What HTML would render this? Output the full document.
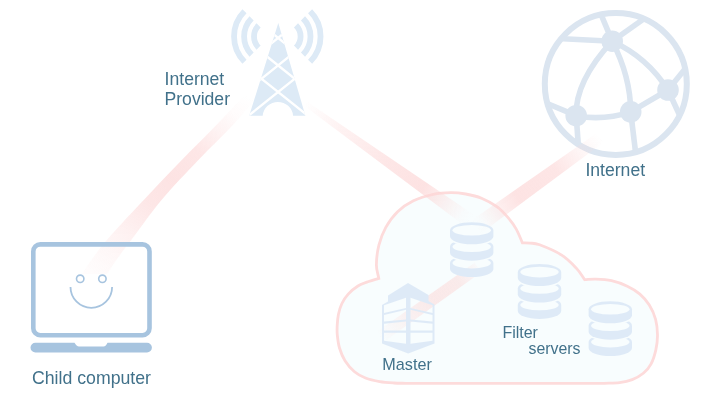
<!DOCTYPE html>
<html><head><meta charset="utf-8">
<style>
html,body{margin:0;padding:0;background:#fff;width:702px;height:406px;overflow:hidden}
svg{display:block}
text{font-family:"Liberation Sans",sans-serif}
</style></head><body>
<svg width="702" height="406" viewBox="0 0 702 406">
<defs>
<filter id="blur" x="-20%" y="-20%" width="140%" height="140%"><feGaussianBlur stdDeviation="0.7"/></filter>
<linearGradient id="b1g" gradientUnits="userSpaceOnUse" x1="250.0" y1="96.0" x2="95.0" y2="274.0"><stop offset="0" stop-color="#fcd6d6" stop-opacity="0.0"/><stop offset="0.1" stop-color="#fcd6d6" stop-opacity="0.08"/><stop offset="0.2" stop-color="#fcd6d6" stop-opacity="0.3"/><stop offset="0.32" stop-color="#fcd6d6" stop-opacity="0.6"/><stop offset="0.48" stop-color="#fcd6d6" stop-opacity="0.68"/><stop offset="0.62" stop-color="#fcd6d6" stop-opacity="0.6"/><stop offset="0.77" stop-color="#fcd6d6" stop-opacity="0.35"/><stop offset="0.89" stop-color="#fcd6d6" stop-opacity="0.18"/><stop offset="1" stop-color="#fcd6d6" stop-opacity="0.08"/></linearGradient>
<linearGradient id="b2g" gradientUnits="userSpaceOnUse" x1="305.0" y1="103.3" x2="470.0" y2="220.8"><stop offset="0" stop-color="#fcd6d6" stop-opacity="0.0"/><stop offset="0.2" stop-color="#fcd6d6" stop-opacity="0.3"/><stop offset="0.5" stop-color="#fcd6d6" stop-opacity="0.6"/><stop offset="0.72" stop-color="#fcd6d6" stop-opacity="0.7"/><stop offset="0.85" stop-color="#fcd6d6" stop-opacity="0.32"/><stop offset="0.95" stop-color="#fcd6d6" stop-opacity="0.05"/><stop offset="1" stop-color="#fcd6d6" stop-opacity="0"/></linearGradient>
<linearGradient id="b3g" gradientUnits="userSpaceOnUse" x1="614.0" y1="127.7" x2="476.0" y2="227.0"><stop offset="0" stop-color="#fcd6d6" stop-opacity="0.0"/><stop offset="0.1" stop-color="#fcd6d6" stop-opacity="0.0"/><stop offset="0.25" stop-color="#fcd6d6" stop-opacity="0.25"/><stop offset="0.42" stop-color="#fcd6d6" stop-opacity="0.62"/><stop offset="0.7" stop-color="#fcd6d6" stop-opacity="0.68"/><stop offset="0.85" stop-color="#fcd6d6" stop-opacity="0.32"/><stop offset="0.95" stop-color="#fcd6d6" stop-opacity="0.05"/><stop offset="1" stop-color="#fcd6d6" stop-opacity="0"/></linearGradient>
<linearGradient id="b4g" gradientUnits="userSpaceOnUse" x1="478.0" y1="267.5" x2="380.0" y2="337.0"><stop offset="0" stop-color="#fcd6d6" stop-opacity="0.1"/><stop offset="0.2" stop-color="#fcd6d6" stop-opacity="0.48"/><stop offset="0.45" stop-color="#fcd6d6" stop-opacity="0.52"/><stop offset="0.7" stop-color="#fcd6d6" stop-opacity="0.33"/><stop offset="1" stop-color="#fcd6d6" stop-opacity="0.0"/></linearGradient>
<clipPath id="tclip"><path d="M278.3,23 L305.4,115.7 L249.2,115.7 Z"/></clipPath>
<mask id="dbm0" maskUnits="userSpaceOnUse" x="441.7" y="215.3" width="60" height="70">
<path d="M450.00,263.10 A21.7,8.0 0 0 1 493.40,263.10 L493.40,269.10 A21.7,8.0 0 0 1 450.00,269.10 Z" fill="#fff"/>
<ellipse cx="471.7" cy="263.10" rx="19.2" ry="5.3" fill="#000"/>
<path d="M450.00,246.70 A21.7,8.0 0 0 1 493.40,246.70 L493.40,252.70 A21.7,8.0 0 0 1 450.00,252.70 Z" fill="#000" stroke="#000" stroke-width="3.2"/>
<path d="M450.00,246.70 A21.7,8.0 0 0 1 493.40,246.70 L493.40,252.70 A21.7,8.0 0 0 1 450.00,252.70 Z" fill="#fff"/>
<ellipse cx="471.7" cy="246.70" rx="19.2" ry="5.3" fill="#000"/>
<path d="M450.00,230.30 A21.7,8.0 0 0 1 493.40,230.30 L493.40,236.30 A21.7,8.0 0 0 1 450.00,236.30 Z" fill="#000" stroke="#000" stroke-width="3.2"/>
<path d="M450.00,230.30 A21.7,8.0 0 0 1 493.40,230.30 L493.40,236.30 A21.7,8.0 0 0 1 450.00,236.30 Z" fill="#fff"/>
<ellipse cx="471.7" cy="230.30" rx="19.2" ry="5.3" fill="#000"/>
</mask>
<mask id="dbm1" maskUnits="userSpaceOnUse" x="509.5" y="257.1" width="60" height="70">
<path d="M517.80,304.90 A21.7,8.0 0 0 1 561.20,304.90 L561.20,310.90 A21.7,8.0 0 0 1 517.80,310.90 Z" fill="#fff"/>
<ellipse cx="539.5" cy="304.90" rx="19.2" ry="5.3" fill="#000"/>
<path d="M517.80,288.50 A21.7,8.0 0 0 1 561.20,288.50 L561.20,294.50 A21.7,8.0 0 0 1 517.80,294.50 Z" fill="#000" stroke="#000" stroke-width="3.2"/>
<path d="M517.80,288.50 A21.7,8.0 0 0 1 561.20,288.50 L561.20,294.50 A21.7,8.0 0 0 1 517.80,294.50 Z" fill="#fff"/>
<ellipse cx="539.5" cy="288.50" rx="19.2" ry="5.3" fill="#000"/>
<path d="M517.80,272.10 A21.7,8.0 0 0 1 561.20,272.10 L561.20,278.10 A21.7,8.0 0 0 1 517.80,278.10 Z" fill="#000" stroke="#000" stroke-width="3.2"/>
<path d="M517.80,272.10 A21.7,8.0 0 0 1 561.20,272.10 L561.20,278.10 A21.7,8.0 0 0 1 517.80,278.10 Z" fill="#fff"/>
<ellipse cx="539.5" cy="272.10" rx="19.2" ry="5.3" fill="#000"/>
</mask>
<mask id="dbm2" maskUnits="userSpaceOnUse" x="580.3" y="294.3" width="60" height="70">
<path d="M588.60,342.10 A21.7,8.0 0 0 1 632.00,342.10 L632.00,348.10 A21.7,8.0 0 0 1 588.60,348.10 Z" fill="#fff"/>
<ellipse cx="610.3" cy="342.10" rx="19.2" ry="5.3" fill="#000"/>
<path d="M588.60,325.70 A21.7,8.0 0 0 1 632.00,325.70 L632.00,331.70 A21.7,8.0 0 0 1 588.60,331.70 Z" fill="#000" stroke="#000" stroke-width="3.2"/>
<path d="M588.60,325.70 A21.7,8.0 0 0 1 632.00,325.70 L632.00,331.70 A21.7,8.0 0 0 1 588.60,331.70 Z" fill="#fff"/>
<ellipse cx="610.3" cy="325.70" rx="19.2" ry="5.3" fill="#000"/>
<path d="M588.60,309.30 A21.7,8.0 0 0 1 632.00,309.30 L632.00,315.30 A21.7,8.0 0 0 1 588.60,315.30 Z" fill="#000" stroke="#000" stroke-width="3.2"/>
<path d="M588.60,309.30 A21.7,8.0 0 0 1 632.00,309.30 L632.00,315.30 A21.7,8.0 0 0 1 588.60,315.30 Z" fill="#fff"/>
<ellipse cx="610.3" cy="309.30" rx="19.2" ry="5.3" fill="#000"/>
</mask>
</defs>

<!-- cloud -->
<path d="M378.80,278.40 C378.00,273.90 376.38,270.43 376.40,264.90 C376.42,259.37 377.33,251.45 378.90,245.20 C380.47,238.95 382.68,232.98 385.80,227.40 C388.92,221.82 393.00,216.13 397.60,211.70 C402.20,207.27 407.48,203.70 413.40,200.80 C419.32,197.90 426.87,195.67 433.10,194.30 C439.33,192.93 445.37,192.65 450.80,192.60 C456.23,192.55 460.58,193.07 465.70,194.00 C470.82,194.93 476.25,196.05 481.50,198.20 C486.75,200.35 492.73,203.62 497.20,206.90 C501.67,210.18 505.15,214.23 508.30,217.90 C511.45,221.57 513.75,224.75 516.10,228.90 C518.45,233.05 520.30,238.17 522.40,242.80 C524.93,242.90 527.13,242.77 530.00,243.10 C532.87,243.43 534.32,242.80 539.60,244.80 C544.88,246.80 555.55,251.17 561.70,255.10 C567.85,259.03 572.67,264.30 576.50,268.40 C580.33,272.50 581.97,275.93 584.70,279.70 C588.40,279.50 591.33,278.93 595.80,279.10 C600.27,279.27 606.25,279.52 611.50,280.70 C616.75,281.88 622.57,283.97 627.30,286.20 C632.03,288.43 636.23,290.95 639.90,294.10 C643.57,297.25 646.68,300.90 649.30,305.10 C651.92,309.30 654.23,314.32 655.60,319.30 C656.97,324.28 657.45,329.95 657.50,335.00 C657.55,340.05 656.97,344.80 655.90,349.60 C654.83,354.40 653.20,359.85 651.10,363.80 C649.00,367.75 646.45,370.67 643.30,373.30 C640.15,375.93 636.15,378.05 632.20,379.60 C628.25,381.15 624.32,381.98 619.60,382.60 C614.88,383.22 609.13,383.07 603.90,383.30 L406,383.3 C401.97,383.20 398.28,383.28 393.90,383.00 C389.52,382.72 384.43,382.43 379.70,381.60 C374.97,380.77 369.70,379.65 365.50,378.00 C361.30,376.35 357.92,374.58 354.50,371.70 C351.08,368.82 347.50,364.65 345.00,360.70 C342.50,356.75 340.78,352.28 339.50,348.00 C338.22,343.72 337.68,338.73 337.30,335.00 C336.92,331.27 337.02,329.02 337.20,325.60 C337.38,322.18 337.62,318.18 338.40,314.50 C339.18,310.82 340.27,306.90 341.90,303.50 C343.53,300.10 345.58,296.98 348.20,294.10 C350.82,291.22 354.18,288.30 357.60,286.20 C361.02,284.10 365.17,282.80 368.70,281.50 C372.23,280.20 375.43,279.43 378.80,278.40 Z" fill="#f8fdfe" stroke="#fddbdb" stroke-width="2.8"/>

<!-- beams -->
<g filter="url(#blur)">
<path d="M244.00,96.00 C234.80,105.67 226.77,114.33 216.40,125.00 C206.03,135.67 193.75,147.67 181.80,160.00 C169.85,172.33 156.62,186.33 144.70,199.00 C132.78,211.67 118.83,226.33 110.30,236.00 C101.77,245.67 98.22,250.67 93.50,257.00 C88.78,263.33 85.83,268.33 82.00,274.00 L107,274 C110.83,268.33 113.97,263.33 118.50,257.00 C123.03,250.67 126.88,245.67 134.20,236.00 C141.52,226.33 151.70,211.67 162.40,199.00 C173.10,186.33 186.65,172.33 198.40,160.00 C210.15,147.67 222.97,135.67 232.90,125.00 C242.83,114.33 249.63,105.67 258.00,96.00 Z" fill="url(#b1g)"/>
<polygon points="303.5,105.3 465.8,226.7 474.2,214.9 306.5,101.2" fill="url(#b2g)"/>
<polygon points="474.7,262.8 376.5,332.1 383.5,341.9 481.3,272.2" fill="url(#b4g)"/>
</g>

<!-- tower -->
<g fill="#ddeaf6">
<path d="M278.3,23 L305.4,115.7 L293.1,115.7 A15.27,15.27 0 0 0 262.7,115.7 L249.2,115.7 Z"/>
<g fill="none" stroke="#ddeaf6" stroke-width="5.8">
<path d="M244.5,11.3 A35.6,35.6 0 0 0 244.5,61.7"/>
<path d="M251.6,18.4 A25.6,25.6 0 0 0 251.6,54.6"/>
<path d="M258.6,25.4 A15.7,15.7 0 0 0 258.6,47.6"/>
<path d="M310.1,11.3 A35.6,35.6 0 0 1 310.1,61.7"/>
<path d="M303,18.4 A25.6,25.6 0 0 1 303,54.6"/>
<path d="M296,25.4 A15.7,15.7 0 0 1 296,47.6"/>
</g>
</g>
<g stroke="#fff" stroke-width="2.4" fill="none" clip-path="url(#tclip)">
<path d="M238.1,5.9 L318.1,69.9 M318.1,5.9 L238.1,69.9"/>
<path d="M238.1,33.4 L318.1,97.4 M318.1,33.4 L238.1,97.4"/>
<path d="M238.1,60.0 L318.1,124.0 M318.1,60.0 L238.1,124.0"/>
</g>

<!-- globe -->
<clipPath id="gclip"><circle cx="615.8" cy="84" r="71"/></clipPath>
<circle cx="615.8" cy="84" r="71" fill="none" stroke="#dbe5f0" stroke-width="6"/>
<g fill="none" stroke="#dbe5f0" stroke-width="5.6" stroke-linecap="butt" clip-path="url(#gclip)">
<path d="M612.2,41.2 L600,12"/>
<path d="M612.2,41.2 L645,18"/>
<path d="M612.2,41.2 L558,38.5"/>
<path d="M612.2,41.2 Q575,81.5 576.2,115.7"/>
<path d="M612.2,41.2 Q630.5,76.5 630.7,111.8"/>
<path d="M612.2,41.2 Q647.3,57.3 668,90"/>
<path d="M668,90 L685,69"/>
<path d="M668,90 L680,116"/>
<path d="M668,90 L630.7,111.8"/>
<path d="M630.7,111.8 Q603,121 576.2,115.7"/>
<path d="M630.7,111.8 L636,156"/>
<path d="M576.2,115.7 L578.8,152"/>
<path d="M576.2,115.7 L546,103"/>
</g>
<g fill="#dbe5f0">
<circle cx="612.2" cy="41.2" r="10.8"/>
<circle cx="668" cy="90" r="10.8"/>
<circle cx="630.7" cy="111.8" r="10.8"/>
<circle cx="576.2" cy="115.7" r="10.8"/>
</g>

<g filter="url(#blur)">
<polygon points="610.8,123.3 471.3,220.5 480.7,233.5 617.2,132.2" fill="url(#b3g)"/>
</g>
<!-- laptop -->
<g fill="none" stroke="#a7c4df">
<rect x="33.3" y="244.4" width="116.2" height="90.8" rx="7" stroke-width="4.6"/>
<circle cx="80.2" cy="278.8" r="3.7" stroke-width="1.6"/>
<circle cx="102.4" cy="278.8" r="3.7" stroke-width="1.6"/>
<path d="M70.5,287 A20.8,20.8 0 0 0 112.1,287" stroke-width="1.8"/>
</g>
<path fill="#a7c4df" d="M35.4,342.7 L74.5,342.7 Q76.5,346.4 79,346.4 L103.5,346.4 Q106,346.4 107.5,342.7 L147,342.7 A4.9,4.9 0 0 1 147,352.5 L35.4,352.5 A4.9,4.9 0 0 1 35.4,342.7 Z"/>

<!-- databases -->
<rect x="446.7" y="218.3" width="50" height="62" fill="#deeaf7" mask="url(#dbm0)"/>
<rect x="514.5" y="260.1" width="50" height="62" fill="#deeaf7" mask="url(#dbm1)"/>
<rect x="585.3" y="297.3" width="50" height="62" fill="#deeaf7" mask="url(#dbm2)"/>

<!-- master -->
<mask id="mm" maskUnits="userSpaceOnUse" x="370" y="275" width="80" height="90">
<path fill="#fff" d="M382,305 L388,301.5 L388,295.5 L408,283 L428.5,295 L428.5,301 L434.5,304.5 L434.5,343.5 L408.2,353.5 L382,343.5 Z"/>
<g fill="#000">
<path d="M384,305.3 L406,297.7 L406,308 L384,313 Z"/>
<path d="M384,315 L406,309.8 L406,319.4 L384,321.6 Z"/>
<path d="M384,323.8 L406,321.6 L406,330.5 L384,330.5 Z"/>
<path d="M384,332.7 L406,332.7 L406,343.8 L384,340.8 Z"/>
<path d="M432.5,305.3 L410.5,297.7 L410.5,308 L432.5,313 Z"/>
<path d="M432.5,315 L410.5,309.8 L410.5,319.4 L432.5,321.6 Z"/>
<path d="M432.5,323.8 L410.5,321.6 L410.5,330.5 L432.5,330.5 Z"/>
<path d="M432.5,332.7 L410.5,332.7 L410.5,343.8 L432.5,340.8 Z"/>
</g>
</mask>
<rect x="375" y="280" width="65" height="80" fill="#deeaf7" mask="url(#mm)"/>

<!-- text -->
<g fill="#41718a" font-size="17.6" opacity="0.999">
<text x="32" y="383.9" font-size="17.7">Child computer</text>
<text x="164.6" y="84.9">Internet</text>
<text x="164.5" y="105.1">Provider</text>
<text x="585.4" y="175.6">Internet</text>
</g>
<g fill="#41718a" font-size="16" opacity="0.999">
<text x="382.3" y="370.3" font-size="16.2">Master</text>
<text x="502.4" y="338.3">Filter</text>
<text x="528.5" y="354.1" font-size="15.85">servers</text>
</g>
</svg>
</body></html>
